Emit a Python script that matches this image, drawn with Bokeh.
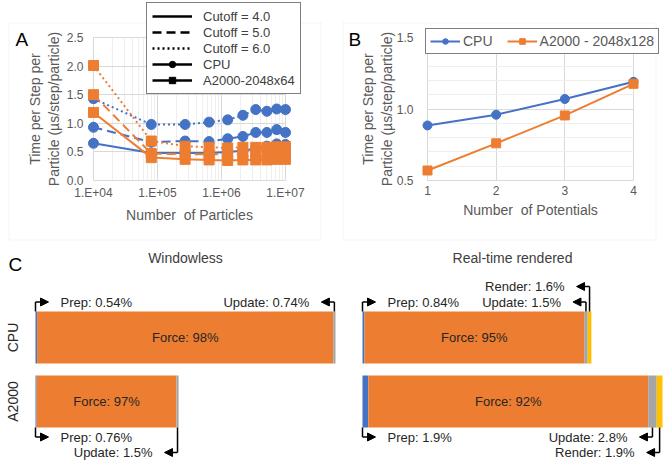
from bokeh.plotting import figure
from bokeh.models import (Range1d, FixedTicker, Legend, LegendItem, BoxAnnotation, Label,
                          Arrow, NormalHead, NumeralTickFormatter, AllLabels)
from bokeh.layouts import row, column
from bokeh.embed import file_html
from bokeh.resources import INLINE
from bokeh.core.properties import value

# ---------------- data ----------------
# Panel A
particles = [1e4, 8e4, 2.7e5, 6.4e5, 1.25e6, 2.16e6, 3.43e6, 5.12e6, 7.29e6, 1e7]
cpu_cut40 = [0.65, 0.48, 0.48, 0.48, 0.50, 0.52, 0.56, 0.60, 0.64, 0.63]
cpu_cut50 = [0.93, 0.67, 0.69, 0.68, 0.73, 0.77, 0.84, 0.84, 0.89, 0.84]
cpu_cut60 = [1.43, 0.98, 0.98, 1.02, 1.06, 1.14, 1.24, 1.21, 1.25, 1.24]
gpu_cut40 = [1.19, 0.40, 0.37, 0.36, 0.35, 0.36, 0.36, 0.36, 0.37, 0.37]
gpu_cut50 = [1.50, 0.47, 0.46, 0.46, 0.46, 0.46, 0.47, 0.47, 0.47, 0.47]
gpu_cut60 = [2.01, 0.69, 0.60, 0.58, 0.57, 0.58, 0.58, 0.58, 0.59, 0.59]
a_x_ticks = [1e4, 1e5, 1e6, 1e7]
a_x_tick_labels = ["1.E+04", "1.E+05", "1.E+06", "1.E+07"]
a_y_ticks = [0.0, 0.5, 1.0, 1.5, 2.0, 2.5]
cutoff_labels = ["Cutoff = 4.0", "Cutoff = 5.0", "Cutoff = 6.0"]
a_device_labels = ["CPU", "A2000-2048x64"]

# Panel B
potentials = [1, 2, 3, 4]
cpu_pot = [0.885, 0.96, 1.07, 1.19]
gpu_pot = [0.57, 0.76, 0.955, 1.176]
b_y_ticks = [0.5, 1.0, 1.5]
b_y_minor = [0.6, 0.7, 0.8, 0.9, 1.1, 1.2, 1.3, 1.4]
b_device_labels = ["CPU", "A2000 - 2048x128"]

# Panel C (relative time per step; percent breakdown per stage)
devices = ["CPU", "A2000"]
stages = ["Prep", "Force", "Update", "Render"]
windowless_time = [1.0, 0.477]
rendered_time = [0.763, 1.0]
windowless_cpu_pct = [0.54, 98, 0.74, 0]
windowless_gpu_pct = [0.76, 97, 1.5, 0]
rendered_cpu_pct = [0.84, 95, 1.5, 1.6]
rendered_gpu_pct = [1.9, 92, 2.8, 1.9]

# ---------------- styles ----------------
FONT = "Liberation Sans"
BLUE, ORANGE, GRAY, YELLOW = "#4472C4", "#ED7D31", "#A5A5A5", "#FFC000"
stage_colors = [BLUE, ORANGE, GRAY, YELLOW]
TXT = "#595959"
GRID = "#d9d9d9"
MINOR = "#eeeeee"
Y_LABEL = "Time per Step per\nParticle (\u00b5s/step/particle)"


def base_fig(w, h, xr, yr, **kw):
    p = figure(width=w, height=h, x_range=xr, y_range=yr, output_backend="svg",
               toolbar_location=None, min_border=0, min_border_left=0, min_border_right=0,
               min_border_top=0, min_border_bottom=0, **kw)
    p.outline_line_color = None
    p.background_fill_color = None
    return p


def style_axes(p, xb, yb, xloc, yloc, y_tick_standoff, y_label_standoff):
    for ax in (p.xaxis[0], p.yaxis[0]):
        ax.axis_line_color = None
        ax.major_tick_line_color = None
        ax.minor_tick_line_color = None
        ax.major_tick_out = 0
        ax.major_tick_in = 0
        ax.minor_tick_out = 0
        ax.minor_tick_in = 0
        ax.major_label_text_font = FONT
        ax.major_label_text_font_size = "12px"
        ax.major_label_text_color = TXT
        ax.axis_label_text_font = FONT
        ax.axis_label_text_font_size = "14px"
        ax.axis_label_text_font_style = "normal"
        ax.axis_label_text_color = TXT
        ax.major_label_policy = AllLabels()
    p.xaxis[0].fixed_location = xloc
    p.yaxis[0].fixed_location = yloc
    p.xaxis[0].bounds = xb
    p.yaxis[0].bounds = yb
    p.xaxis[0].major_label_standoff = 5
    p.xaxis[0].axis_label_standoff = 4
    p.yaxis[0].major_label_standoff = y_tick_standoff
    p.yaxis[0].axis_label_standoff = y_label_standoff
    p.grid.grid_line_color = GRID
    p.xgrid.cross_bounds = yb
    p.ygrid.cross_bounds = xb


def add_letter(p, text, x, y):
    p.add_layout(Label(x=x, y=y, text=text, text_font=FONT, text_font_size="19px",
                       text_color="#000000", text_baseline="middle", text_align="left"))


def add_border(p, l, r, t, b):
    p.add_layout(BoxAnnotation(left=l, right=r, top=t, bottom=b, fill_alpha=0,
                               line_color=GRID, line_width=1, level="underlay"))


# ---------------- Panel A ----------------
WA, HA = 342, 244


def xA(cx):  # canvas px -> data (log axis calibration)
    return 10 ** (4 + (cx - 93) * 3 / 192)


def yA(cy):
    return (180 - cy) / 57.2


pA = base_fig(WA, HA, Range1d(xA(0), xA(WA)), Range1d(yA(HA), yA(0)), x_axis_type="log")
minor_a = [k * 10 ** e for e in (4, 5, 6) for k in range(2, 10)]
xt = FixedTicker(ticks=a_x_ticks, minor_ticks=minor_a)
pA.xaxis.ticker = xt
pA.xgrid.ticker = xt
pA.xaxis.major_label_overrides = {v: s for v, s in zip(a_x_ticks, a_x_tick_labels)}
yt_a = FixedTicker(ticks=a_y_ticks)
pA.yaxis.ticker = yt_a
pA.ygrid.ticker = yt_a
pA.yaxis.formatter = NumeralTickFormatter(format="0.0")
pA.xaxis.axis_label = "Number\u00a0 of Particles"
pA.yaxis.axis_label = Y_LABEL
style_axes(pA, (a_x_ticks[0], a_x_ticks[-1]), (a_y_ticks[0], a_y_ticks[-1]),
           a_y_ticks[0], a_x_ticks[0], 10, 2)
pA.xgrid.minor_grid_line_color = MINOR
add_border(pA, xA(8.5), xA(320.5), yA(22.5), yA(239.5))

dashes = ["solid", "9 5", "2 3"]
for ser, d in zip([cpu_cut40, cpu_cut50, cpu_cut60], dashes):
    pA.line(particles, ser, color=BLUE, line_width=2, line_dash=d)
    pA.scatter(particles, ser, marker="circle", size=10, color=BLUE)
for ser, d in zip([gpu_cut40, gpu_cut50, gpu_cut60], dashes):
    pA.line(particles, ser, color=ORANGE, line_width=2, line_dash=d)
    pA.scatter(particles, ser, marker="square", size=10, color=ORANGE)

# black legend keys (hidden renderers, shown only in the legend)
items = []
for lab, d in zip(cutoff_labels, dashes):
    r = pA.line(particles, cpu_cut40, color="black", line_width=2.5, line_dash=d, visible=False)
    items.append(LegendItem(label=lab, renderers=[r]))
for lab, mk in zip(a_device_labels, ["circle", "square"]):
    rl = pA.line(particles, cpu_cut40, color="black", line_width=2.5, visible=False)
    rm = pA.scatter(particles, cpu_cut40, marker=mk, size=10, color="black", visible=False)
    items.append(LegendItem(label=lab, renderers=[rl, rm]))
legA = Legend(items=items, location=(146, HA - 94), orientation="vertical",
              label_text_font=FONT, label_text_font_size="13px", label_text_color="#404040",
              glyph_width=40, glyph_height=16, label_height=16, label_standoff=11,
              spacing=0, padding=5, margin=0,
              border_line_color="black", border_line_width=1.5,
              background_fill_color="white", background_fill_alpha=1)
pA.add_layout(legA, "center")
add_letter(pA, "A", xA(15), yA(38.5))

# ---------------- Panel B ----------------
WB, HB = 323, 244


def xB(cx):
    return 1 + (cx - 85) * 3 / 206


def yB(cy):
    return 0.5 + (180 - cy) / 143


pB = base_fig(WB, HB, Range1d(xB(0), xB(WB)), Range1d(yB(HB), yB(0)))
xt_b = FixedTicker(ticks=potentials)
pB.xaxis.ticker = xt_b
pB.xgrid.ticker = xt_b
yt_b = FixedTicker(ticks=b_y_ticks, minor_ticks=b_y_minor)
pB.yaxis.ticker = yt_b
pB.ygrid.ticker = yt_b
pB.yaxis.formatter = NumeralTickFormatter(format="0.0")
pB.xaxis.axis_label = "Number\u00a0 of Potentials"
pB.yaxis.axis_label = Y_LABEL
style_axes(pB, (potentials[0], potentials[-1]), (b_y_ticks[0], b_y_ticks[-1]),
           b_y_ticks[0], potentials[0], 14, -1)
pB.ygrid.minor_grid_line_color = MINOR
add_border(pB, xB(0.5), xB(313.5), yB(22.5), yB(239.5))

lc = pB.line(potentials, cpu_pot, color=BLUE, line_width=2)
mc = pB.scatter(potentials, cpu_pot, marker="circle", size=9, color=BLUE)
lg = pB.line(potentials, gpu_pot, color=ORANGE, line_width=2)
mg = pB.scatter(potentials, gpu_pot, marker="square", size=9, color=ORANGE)
legB = Legend(items=[LegendItem(label=b_device_labels[0], renderers=[lc, mc]),
                     LegendItem(label=b_device_labels[1], renderers=[lg, mg])],
              location=(83, HB - 54), orientation="horizontal",
              label_text_font=FONT, label_text_font_size="14px", label_text_color=TXT,
              glyph_width=30, glyph_height=14, label_height=14, label_standoff=3,
              spacing=14, padding=4, margin=0,
              border_line_color="black", border_line_width=1.5,
              background_fill_color="white", background_fill_alpha=1)
pB.add_layout(legB, "center")
add_letter(pB, "B", xB(6), yB(38.5))

# ---------------- Panel C ----------------
HC = 219
PX_Y = 64.0           # px per category unit
CPU_CY = 93.0         # canvas y of the CPU bar centre
BAR_H = 52.0 / PX_Y
ROW_OFF = [9.5 / PX_Y, 25.0 / PX_Y]
C_TXT = "#262626"


def breakdown(width, px_x, bar_left, totals, pct_lists, notes, title, show_axis):
    def cx2x(cx):
        return (cx - bar_left) / px_x

    def cy2y(cy):
        return 1.5 + (CPU_CY - cy) / PX_Y

    p = base_fig(width, HC, Range1d(cx2x(0), cx2x(width)), Range1d(cy2y(HC), cy2y(0)))
    p.xaxis.visible = False
    p.grid.visible = False
    ys = [len(devices) - i - 0.5 for i in range(len(devices))]
    if show_axis:
        ax = p.yaxis[0]
        ax.fixed_location = 0
        ax.ticker = FixedTicker(ticks=ys)
        ax.major_label_overrides = {y: d for y, d in zip(ys, devices)}
        ax.major_label_orientation = "vertical"
        ax.axis_line_color = None
        ax.major_tick_line_color = None
        ax.minor_tick_line_color = None
        ax.major_tick_out = 0
        ax.major_tick_in = 0
        ax.major_label_text_font = FONT
        ax.major_label_text_font_size = "14px"
        ax.major_label_text_color = C_TXT
        ax.major_label_standoff = 15
    else:
        p.yaxis.visible = False

    for i, (tot, pcts) in enumerate(zip(totals, pct_lists)):
        norm = sum(pcts)
        edges = [0.0]
        for v in pcts:
            edges.append(edges[-1] + tot * v / norm)
        yc = ys[i]
        for s in range(len(stages)):
            if pcts[s] <= 0:
                continue
            p.hbar(y=[yc], left=[edges[s]], right=[edges[s + 1]], height=BAR_H,
                   fill_color=stage_colors[s], line_color=None)
        fc = (edges[1] + edges[2]) / 2
        p.text(x=[fc], y=[yc], text=[f"{stages[1]}: {pcts[1]:g}%"], text_align="center",
               text_baseline="middle", text_font=value(FONT), text_font_size="13px",
               text_color=C_TXT)
        for (di, s, side, rw) in notes:
            if di != i:
                continue
            sgn = 1 if side == "above" else -1
            edge_y = yc + sgn * BAR_H / 2
            row_y = edge_y + sgn * ROW_OFF[rw - 1]
            if s == 0:
                ax_x, dirx = edges[0], 1
            else:
                ax_x, dirx = (edges[s] + edges[s + 1]) / 2, -1
            tip = ax_x + dirx * 13 / px_x
            tx = ax_x + dirx * 25 / px_x
            p.segment(x0=[ax_x], y0=[edge_y], x1=[ax_x], y1=[row_y], line_color="black",
                      line_width=1.5)
            p.add_layout(Arrow(x_start=ax_x, y_start=row_y, x_end=tip, y_end=row_y,
                               line_color="black", line_width=1.5,
                               end=NormalHead(size=8, fill_color="black", line_color="black",
                                              line_width=1)))
            p.text(x=[tx], y=[row_y], text=[f"{stages[s]}: {pcts[s]:g}%"],
                   text_align="left" if dirx > 0 else "right", text_baseline="middle",
                   text_font=value(FONT), text_font_size="13px", text_color=C_TXT)
    p.add_layout(Label(x=max(totals) / 2, y=cy2y(13), text=title,
                       text_font=FONT, text_font_size="14px", text_color="#404040",
                       text_align="center", text_baseline="middle"))
    return p, cx2x, cy2y


windowless_notes = [(0, 0, "above", 1), (0, 2, "above", 1), (1, 0, "below", 1), (1, 2, "below", 2)]
rendered_notes = [(0, 0, "above", 1), (0, 2, "above", 1), (0, 3, "above", 2),
                  (1, 0, "below", 1), (1, 2, "below", 1), (1, 3, "below", 2)]

pC1, c1x, c1y = breakdown(342, 300.0, 35, windowless_time,
                          [windowless_cpu_pct, windowless_gpu_pct],
                          windowless_notes, "Windowless", True)
add_letter(pC1, "C", c1x(8), c1y(20))
pC2, _, _ = breakdown(323, 300.0, 20, rendered_time, [rendered_cpu_pct, rendered_gpu_pct],
                      rendered_notes, "Real-time rendered", False)

layout = column(row(pA, pB), row(pC1, pC2))
open("out.html", "w").write(file_html(layout, INLINE))
